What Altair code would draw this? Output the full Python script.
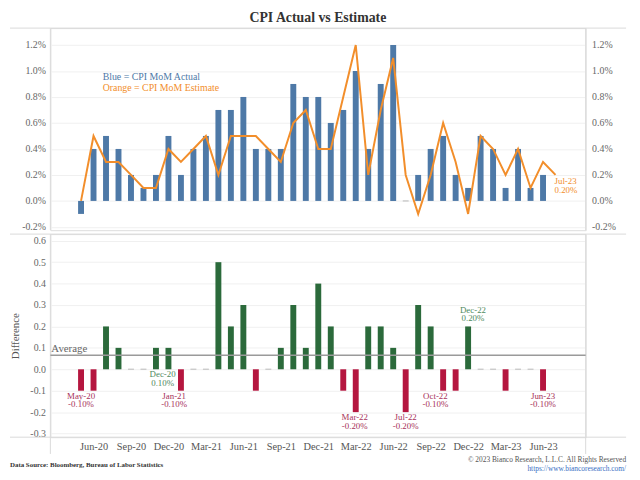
import json
import altair as alt
import pandas as pd

# ---------------- data ----------------
months = pd.date_range("2020-05-01", periods=39, freq="MS")
month_labels = [d.strftime("%b-%y") for d in months]

actual = [-0.1, 0.4, 0.5, 0.4, 0.2, 0.1, 0.2, 0.5, 0.2, 0.4, 0.5, 0.7, 0.7, 0.8,
          0.4, 0.4, 0.4, 0.9, 0.8, 0.8, 0.6, 0.7, 1.0, 0.4, 0.9, 1.2, 0.0, 0.2,
          0.4, 0.5, 0.2, 0.1, 0.5, 0.4, 0.1, 0.4, 0.1, 0.2, None]
estimate = [0.0, 0.5, 0.3, 0.3, 0.2, 0.1, 0.1, 0.4, 0.3, 0.4, 0.5, 0.2, 0.5, 0.5,
            0.5, 0.4, 0.3, 0.6, 0.7, 0.4, 0.4, 0.8, 1.2, 0.2, 0.7, 1.1, 0.2, -0.1,
            0.2, 0.6, 0.3, -0.1, 0.5, 0.4, 0.2, 0.4, 0.1, 0.3, 0.2]
difference = [-0.1, -0.1, 0.2, 0.1, 0.0, 0.0, 0.1, 0.1, -0.1, 0.0, 0.0, 0.5, 0.2, 0.3,
              -0.1, 0.0, 0.1, 0.3, 0.1, 0.4, 0.2, -0.1, -0.2, 0.2, 0.2, 0.1, -0.2, 0.3,
              0.2, -0.1, -0.1, 0.2, 0.0, 0.0, -0.1, 0.0, 0.0, -0.1, None]

tick_months = ["Jun-20", "Sep-20", "Dec-20", "Mar-21", "Jun-21", "Sep-21", "Dec-21",
               "Mar-22", "Jun-22", "Sep-22", "Dec-22", "Mar-23", "Jun-23"]
top_ticks = [-0.2, 0.0, 0.2, 0.4, 0.6, 0.8, 1.0, 1.2]
bottom_ticks = [-0.3, -0.2, -0.1, 0.0, 0.1, 0.2, 0.3, 0.4, 0.5, 0.6]

ann_months = ["May-20", "Dec-20", "Jan-21", "Mar-22", "Jul-22", "Oct-22", "Dec-22", "Jun-23"]
ann_side = ["below", "below", "below", "below", "below", "below", "above", "below"]
ann_nudge_px = [0, -6, -7, -1, 0, -8, 5, 0]
end_label_month = "Jul-23"

title_text = "CPI Actual vs Estimate"
legend_lines = ["Blue = CPI MoM Actual", "Orange = CPI MoM Estimate"]
source_text = "Data Source: Bloomberg, Bureau of Labor Statistics"
copyright_text = "\u00a9 2023 Bianco Research, L.L.C. All Rights Reserved"
url_text = "https://www.biancoresearch.com/"

# ---------------- styling ----------------
BLUE = "#4e79a7"
ORANGE = "#f28e2b"
GREEN = "#2b6a3b"
RED = "#b5163f"
GREEN_TXT = "#4f8a5e"
RED_TXT = "#a8325a"
GRID = "#f0f0f0"
DIV = "#d9d9d9"
LAB = "#666666"
FONT = "Liberation Serif"

W = 543
H1 = 205
H2 = 206
X_DOMAIN = [-2.06, 40.02]
PX_PER_MONTH = W / (X_DOMAIN[1] - X_DOMAIN[0])

df = pd.DataFrame({
    "i": list(range(len(month_labels))),
    "month": month_labels,
    "actual": actual,
    "estimate": estimate,
    "diff": difference,
})
one = pd.DataFrame({"k": [0]})

rows = []
for m, side, nd in zip(ann_months, ann_side, ann_nudge_px):
    k = month_labels.index(m)
    d = difference[k]
    rows.append({
        "i": k,
        "xpos": k + nd / PX_PER_MONTH,
        "anchor": (min(d, 0.0) if side == "below" else d),
        "side": side,
        "txt": f"{m}\n{d:.2f}%",
        "col": GREEN_TXT if d > 0 else RED_TXT,
    })
ann = pd.DataFrame(rows)

ke = month_labels.index(end_label_month)
end_ann = pd.DataFrame({"i": [ke], "val": [estimate[ke]],
                        "txt": [f"{end_label_month}\n{estimate[ke]:.2f}%"]})

xscale = alt.Scale(domain=X_DOMAIN, nice=False, zero=False)
y1scale = alt.Scale(domain=[-0.225, 1.33], nice=False, zero=False)
y2scale = alt.Scale(domain=[-0.317, 0.631], nice=False, zero=False)

pct_expr = "replace(format(datum.value, '.1f'), '\u2212', '-') + '%'"
num_expr = "replace(format(datum.value, '.1f'), '\u2212', '-')"
tick_idx = [month_labels.index(m) for m in tick_months]
x_expr = json.dumps(month_labels) + "[datum.value]"

left_axis = alt.Axis(orient="left", values=top_ticks, labelExpr=pct_expr, title=None,
                     domain=False, ticks=False, labelPadding=5, labelFont=FONT,
                     labelFontSize=10, labelColor=LAB, grid=True, gridColor=GRID)
right_axis = alt.Axis(orient="right", values=top_ticks, labelExpr=pct_expr, title=None,
                      domain=False, ticks=False, labelPadding=6, labelFont=FONT,
                      labelFontSize=10, labelColor=LAB, grid=False)
x_axis = alt.Axis(orient="bottom", values=tick_idx, labelExpr=x_expr, title=None,
                  domain=False, ticks=False, grid=False, labelPadding=4, labelFont=FONT,
                  labelFontSize=10.5, labelColor="#555555", labelOverlap=False)
y2_axis = alt.Axis(orient="left", values=bottom_ticks, labelExpr=num_expr,
                   title="Difference", domain=False, ticks=False, labelPadding=5,
                   labelFont=FONT, labelFontSize=10, labelColor=LAB, grid=True,
                   gridColor=GRID, titleFont=FONT, titleFontSize=11,
                   titleFontWeight="normal", titleColor="#555555", titlePadding=10)

X = alt.X("i:Q", scale=xscale, axis=None)
XA = alt.X("xpos:Q", scale=xscale, axis=None)
base = alt.Chart(df)

# ---------------- top panel ----------------
bars = base.transform_filter("datum.actual != null && datum.actual != 0").mark_bar(
    size=6, color=BLUE).encode(x=X, y=alt.Y("actual:Q", scale=y1scale, axis=left_axis))
zero_top = base.transform_filter("datum.actual === 0").mark_tick(
    orient="horizontal", size=6, thickness=1.5, color="#bbbbbb").encode(
    x=X, y=alt.Y("actual:Q", scale=y1scale, axis=None))
line = base.transform_filter("datum.estimate != null").mark_line(
    color=ORANGE, strokeWidth=2).encode(
    x=X, y=alt.Y("estimate:Q", scale=y1scale, axis=None))
right = base.transform_filter("datum.estimate != null").mark_point(opacity=0).encode(
    x=X, y=alt.Y("estimate:Q", scale=y1scale, axis=right_axis))
end_txt = alt.Chart(end_ann).mark_text(
    align="left", baseline="top", dx=-1, dy=2, lineBreak="\n", lineHeight=9,
    font=FONT, fontSize=9, color=ORANGE).encode(
    x=X, y=alt.Y("val:Q", scale=y1scale, axis=None), text="txt:N")
leg1 = alt.Chart(one).mark_text(align="left", baseline="middle", font=FONT,
                                fontSize=10, color=BLUE).encode(
    x=alt.value(53), y=alt.value(49.5), text=alt.value(legend_lines[0]))
leg2 = alt.Chart(one).mark_text(align="left", baseline="middle", font=FONT,
                                fontSize=10, color=ORANGE).encode(
    x=alt.value(53), y=alt.value(60.5), text=alt.value(legend_lines[1]))
div_top = alt.Chart(one).mark_rule(color=DIV, strokeWidth=1).encode(
    x=alt.value(-41), x2=alt.value(584), y=alt.value(0))
vl1 = alt.Chart(one).mark_rule(color=DIV, strokeWidth=1).encode(
    x=alt.value(0), y=alt.value(0), y2=alt.value(H1))
vr1 = alt.Chart(one).mark_rule(color=DIV, strokeWidth=1).encode(
    x=alt.value(W), y=alt.value(0), y2=alt.value(H1))

top = alt.layer(bars, div_top, vl1, vr1, zero_top, line, right, end_txt, leg1, leg2).resolve_axis(
    y="independent", x="independent").properties(width=W, height=H1)

# ---------------- bottom panel ----------------
bars2 = base.transform_filter("datum.diff != null && datum.diff != 0").mark_bar(size=6).encode(
    x=alt.X("i:Q", scale=xscale, axis=x_axis),
    y=alt.Y("diff:Q", scale=y2scale, axis=y2_axis),
    color=alt.condition("datum.diff > 0", alt.value(GREEN), alt.value(RED)))
zero_bot = base.transform_filter("datum.diff === 0").mark_tick(
    orient="horizontal", size=6, thickness=1.5, color="#bbbbbb").encode(
    x=X, y=alt.Y("diff:Q", scale=y2scale, axis=None))
avg_rule = base.transform_filter("datum.diff != null").mark_rule(
    color="#9a9a9a", strokeWidth=1.5).encode(
    y=alt.Y("mean(diff):Q", scale=y2scale, axis=None))
avg_txt = base.transform_filter("datum.diff != null").transform_aggregate(
    avg="mean(diff)").mark_text(align="left", baseline="bottom", dx=1, dy=-1.5,
                                font=FONT, fontSize=11, color="#666666").encode(
    x=alt.value(0), y=alt.Y("avg:Q", scale=y2scale, axis=None), text=alt.value("Average"))
ann_below = alt.Chart(ann).transform_filter("datum.side == 'below'").mark_text(
    baseline="top", dy=1, lineBreak="\n", lineHeight=9, font=FONT, fontSize=9).encode(
    x=XA, y=alt.Y("anchor:Q", scale=y2scale, axis=None), text="txt:N",
    color=alt.Color("col:N", scale=None))
ann_above = alt.Chart(ann).transform_filter("datum.side == 'above'").mark_text(
    baseline="bottom", dy=-12, lineBreak="\n", lineHeight=9, font=FONT, fontSize=9).encode(
    x=XA, y=alt.Y("anchor:Q", scale=y2scale, axis=None), text="txt:N",
    color=alt.Color("col:N", scale=None))
div_mid = alt.Chart(one).mark_rule(color=DIV, strokeWidth=1).encode(
    x=alt.value(-41), x2=alt.value(584), y=alt.value(0))
div_bot = alt.Chart(one).mark_rule(color=DIV, strokeWidth=1).encode(
    x=alt.value(-41), x2=alt.value(584), y=alt.value(H2))
vl2 = alt.Chart(one).mark_rule(color=DIV, strokeWidth=1).encode(
    x=alt.value(0), y=alt.value(0), y2=alt.value(H2 + 17))
vr2 = alt.Chart(one).mark_rule(color=DIV, strokeWidth=1).encode(
    x=alt.value(W), y=alt.value(0), y2=alt.value(H2 + 17))
src = alt.Chart(one).mark_text(align="left", baseline="middle", font=FONT, fontSize=7,
                               fontWeight="bold", color="#333333").encode(
    x=alt.value(-41), y=alt.value(H2 + 28), text=alt.value(source_text))
cpy = alt.Chart(one).mark_text(align="right", baseline="middle", font=FONT, fontSize=7.5,
                               color="#555555").encode(
    x=alt.value(584), y=alt.value(H2 + 23.5), text=alt.value(copyright_text))
url = alt.Chart(one).mark_text(align="right", baseline="middle", font=FONT, fontSize=7.5,
                               color="#3a6fc4").encode(
    x=alt.value(584), y=alt.value(H2 + 32), text=alt.value(url_text))

bottom = alt.layer(bars2, div_mid, div_bot, vl2, vr2, zero_bot, avg_rule, avg_txt,
                   ann_below, ann_above, src, cpy, url).resolve_axis(
    y="independent", x="independent").properties(width=W, height=H2)

chart = alt.vconcat(top, bottom, spacing=0).properties(
    title=alt.TitleParams(title_text, font=FONT, fontSize=14, fontWeight="bold",
                          color="#333333", anchor="middle", offset=2),
    padding={"left": 0, "top": 0, "right": 5, "bottom": 0},
).configure_view(stroke=None).configure(background="white")

chart.save("out.html", embed_options={"renderer": "svg", "actions": False})
